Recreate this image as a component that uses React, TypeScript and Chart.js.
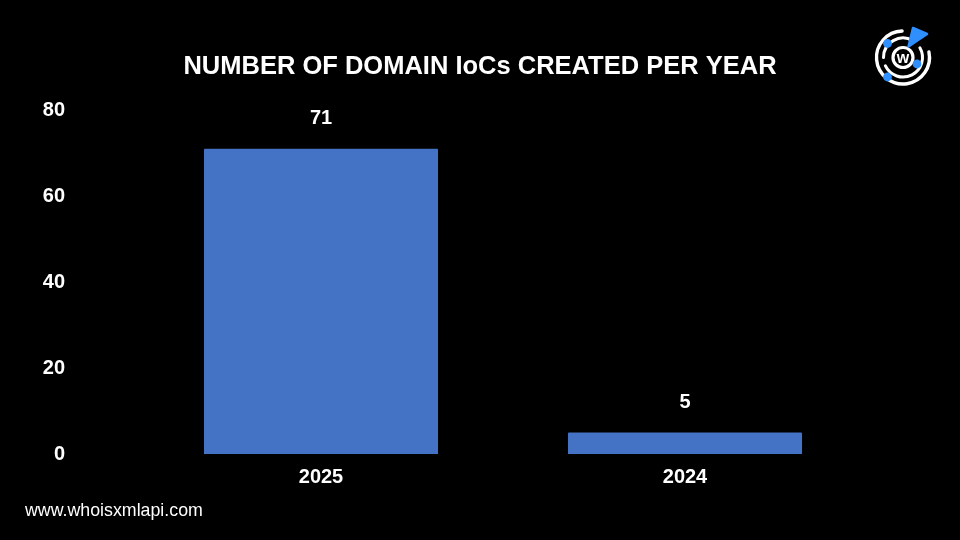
import React, { useEffect, useRef } from "react";
import { Chart, registerables } from "chart.js";

Chart.register(...registerables);

const categories = ["2025", "2024"];
const values = [71, 5];
const yTicks = [0, 20, 40, 60, 80];
const titleText = "NUMBER OF DOMAIN IoCs CREATED PER YEAR";
const footerText = "www.whoisxmlapi.com";

const FONT = "'Liberation Sans', Arial, Helvetica, sans-serif";

const valueLabels = {
  id: "valueLabels",
  afterDatasetsDraw(chart: any) {
    const ctx = chart.ctx;
    const meta = chart.getDatasetMeta(0);
    ctx.save();
    ctx.fillStyle = "#ffffff";
    ctx.font = `bold 20px ${FONT}`;
    ctx.textAlign = "center";
    ctx.textBaseline = "alphabetic";
    meta.data.forEach((bar: any, i: number) => {
      ctx.fillText(String(values[i]), bar.x, bar.y - 25);
    });
    ctx.restore();
  },
};

const canvasTitle = {
  id: "canvasTitle",
  afterDraw(chart: any) {
    const ctx = chart.ctx;
    ctx.save();
    ctx.fillStyle = "#ffffff";
    ctx.font = `bold 25.5px ${FONT}`;
    ctx.textAlign = "center";
    ctx.textBaseline = "alphabetic";
    ctx.fillText(titleText, chart.width / 2, 74);
    ctx.restore();
  },
};

const blackBg = {
  id: "blackBg",
  beforeDraw(chart: any) {
    const ctx = chart.ctx;
    ctx.save();
    ctx.fillStyle = "#000000";
    ctx.fillRect(0, 0, chart.width, chart.height);
    ctx.restore();
  },
};

function Logo() {
  const cx = 903;
  const cy = 57.5;
  const rad = (d: number) => (d * Math.PI) / 180;
  const arc = (r: number, a0: number, a1: number) => {
    const x0 = cx + r * Math.cos(rad(a0));
    const y0 = cy + r * Math.sin(rad(a0));
    const x1 = cx + r * Math.cos(rad(a1));
    const y1 = cy + r * Math.sin(rad(a1));
    const sweep = (((a1 - a0) % 360) + 360) % 360;
    const large = sweep > 180 ? 1 : 0;
    return `M ${x0} ${y0} A ${r} ${r} 0 ${large} 1 ${x1} ${y1}`;
  };
  return (
    <svg
      width={960}
      height={540}
      style={{ position: "absolute", left: 0, top: 0, pointerEvents: "none" }}
    >
      <path d={arc(26.5, -12, 268)} stroke="#fff" strokeWidth={3.4} fill="none" strokeLinecap="round" />
      <path d={arc(19.5, 180, 300)} stroke="#fff" strokeWidth={3} fill="none" strokeLinecap="round" />
      <path d={arc(19.5, 330, 155)} stroke="#fff" strokeWidth={3} fill="none" strokeLinecap="round" />
      <circle cx={cx} cy={cy} r={10} stroke="#fff" strokeWidth={3.2} fill="#000" />
      <text
        x={cx}
        y={cy + 5.5}
        textAnchor="middle"
        fill="#fff"
        fontFamily={FONT}
        fontWeight="bold"
        fontSize={16}
      >
        w
      </text>
      <circle cx={887.5} cy={43.5} r={4.4} fill="#2f8fff" />
      <circle cx={917} cy={64} r={4.4} fill="#2f8fff" />
      <circle cx={887.5} cy={77} r={4.4} fill="#2f8fff" />
      <path
        d="M 913 28 L 927 34 L 908.5 46.5 Z"
        fill="#2f8fff"
        stroke="#2f8fff"
        strokeWidth={2.5}
        strokeLinejoin="round"
      />
    </svg>
  );
}

export default function App() {
  const canvasRef = useRef<HTMLCanvasElement | null>(null);

  useEffect(() => {
    document.body.style.margin = "0";
    document.body.style.background = "#000";
    const canvas = canvasRef.current;
    if (!canvas) return;
    const chart = new Chart(canvas, {
      type: "bar",
      data: {
        labels: categories,
        datasets: [
          {
            data: values,
            backgroundColor: "#4472C4",
            borderWidth: 0,
            borderRadius: 1,
            categoryPercentage: 1,
            barPercentage: 0.643,
          },
        ],
      },
      options: {
        animation: false,
        responsive: false,
        maintainAspectRatio: false,
        layout: { padding: { left: 0, right: 93, top: 110, bottom: 0 } },
        plugins: {
          legend: { display: false },
          tooltip: { enabled: false },
          title: { display: false },
        },
        scales: {
          x: {
            grid: { display: false, drawTicks: false },
            border: { display: false },
            ticks: {
              color: "#ffffff",
              font: { family: FONT, size: 20, weight: "bold" },
              padding: 11,
            },
            afterFit(scale: any) {
              scale.height = 84;
            },
          },
          y: {
            min: 0,
            max: 80,
            grid: { display: false, drawTicks: false },
            border: { display: false },
            afterBuildTicks(scale: any) {
              scale.ticks = yTicks.map((v) => ({ value: v }));
            },
            ticks: {
              color: "#ffffff",
              font: { family: FONT, size: 20, weight: "bold" },
              padding: 74,
            },
            afterFit(scale: any) {
              scale.width = 139;
            },
          },
        },
      },
      plugins: [blackBg, valueLabels, canvasTitle],
    });
    return () => chart.destroy();
  }, []);

  return (
    <div style={{ position: "relative", width: 960, height: 540, background: "#000" }}>
      <canvas ref={canvasRef} width={960} height={540} style={{ display: "block" }} />
      <Logo />
      <div
        style={{
          position: "absolute",
          left: 25,
          top: 500,
          color: "#fff",
          fontFamily: FONT,
          fontSize: 17.8,
          lineHeight: "20px",
          whiteSpace: "nowrap",
        }}
      >
        {footerText}
      </div>
    </div>
  );
}
